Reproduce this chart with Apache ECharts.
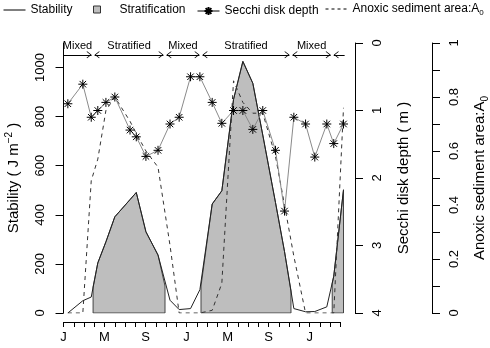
<!DOCTYPE html>
<html><head><meta charset="utf-8">
<script src="https://cdn.jsdelivr.net/npm/echarts@6/dist/echarts.min.js"></script>
<style>html,body{margin:0;padding:0;background:#fff}#c{width:490px;height:348px}</style>
</head><body><div id="c"></div>
<script>
// sampling dates in months from January of year 1
const months = [0.42,1.88,2.70,3.34,4.13,5.00,6.48,7.09,8.03,9.21,10.38,11.27,12.38,13.29,14.49,15.43,16.57,17.48,18.45,19.42,20.66,21.54,22.45,23.59,24.49,25.66,26.34,27.29];
const stability = [0,50,65,204,290,392,462,491,331,236,52,14,18,95,444,498,870,1025,936,725,450,250,18,5,6,25,150,502];
const secchi = [0.90,0.61,1.10,1.00,0.88,0.80,1.29,1.39,1.68,1.59,1.20,1.10,0.50,0.50,0.88,1.19,1.00,1.00,1.28,1.00,1.59,2.49,1.10,1.20,1.69,1.20,1.49,1.20];
const anoxic = [0,0,0.49,0.57,0.75,0.80,0.71,0.665,0.60,0.54,0.25,0,0,0,0.01,0.11,0.86,0.78,0.74,0.74,0.58,0.40,0.21,0,0,0,0,0.76];
const stratStart = [2.88,13.40,26.19];
const stratEnd = [9.89,22.17,27.29];
const stratStartStab = [106,110,120];
const stratEndStab = [110,90,502];
const periodBounds = [0,2.88,9.89,13.40,22.17,26.19,27.4];
const periodLabels = ['Mixed','Stratified','Mixed','Stratified','Mixed',''];
const monthTickCount = 28;
const monthLabelPos = [0,4,8,12,16,20,24];
const monthLabels = ['J','M','S','J','M','S','J'];
const stabTicks = [0,200,400,600,800,1000];
const anoxicLabelVals = [0,0.2,0.4,0.6,0.8,1];

const FONT = 'Liberation Sans, Arial, Helvetica, sans-serif';
const starPath = 'path://M0,-5L0,5M-5,0L5,0M-3.6,-3.6L3.6,3.6M-3.6,3.6L3.6,-3.6';
const arrowPath = 'path://M0,0L6,9L5,10L0,2.5L-5,10L-6,9ZM0,-10L0.01,-10L0,-9.99Z';
const arrowY = 1052;
const inset = 0.15;

const chart = echarts.init(document.getElementById('c'), null, {renderer:'canvas'});

const stratSeries = stratStart.map((s,i)=>{
  const e = stratEnd[i];
  const pts = [[s,0],[s,stratStartStab[i]]];
  months.forEach((m,j)=>{ if (m > s && m < e) pts.push([m, stability[j]]); });
  pts.push([e, stratEndStab[i]], [e,0], [s,0]);
  return {
    name:'Stratification', type:'line', xAxisIndex:0, yAxisIndex:0, data:pts,
    symbol:'none', z:2, silent:true,
    lineStyle:{color:'#444', width:1},
    itemStyle:{color:'#BEBEBE', borderColor:'#333', borderWidth:1},
    areaStyle:{color:'#BEBEBE', opacity:1}
  };
});

const mlData = periodLabels.map((lab,i)=>{
  const first = i===0, last = i===periodLabels.length-1;
  return [
    {coord:[periodBounds[i] + (first?0:inset), arrowY], name:lab, symbol: first?'none':arrowPath, symbolSize:[7,10]},
    {coord:[periodBounds[i+1] - (last?0:inset), arrowY], symbol: last?'none':arrowPath, symbolSize:[7,10]}
  ];
});

const txt = {fontSize:12, color:'#000', fontFamily:FONT};
const legendBase = {top:4, padding:0, itemHeight:14, itemWidth:22, selectedMode:false, textStyle:txt};
const noSymbol = {color:'rgba(0,0,0,0)', borderWidth:0, opacity:0};

const option = {
  animation:false,
  textStyle:{fontFamily:FONT, color:'#000'},
  legend:[
    Object.assign({}, legendBase, {left:3, data:['Stability'], itemStyle:noSymbol, lineStyle:{color:'#000', width:1}}),
    Object.assign({}, legendBase, {left:93, itemWidth:7, itemHeight:7, top:3.5,
      data:[{name:'Stratification', icon:'rect'}],
      itemStyle:{color:'#BEBEBE', borderColor:'#333', borderWidth:1},
      textStyle:Object.assign({}, txt, {padding:[0,0,0,14]})}),
    Object.assign({}, legendBase, {left:197, itemHeight:10, top:5, data:['Secchi disk depth'], lineStyle:{color:'#000', width:1}}),
    Object.assign({}, legendBase, {left:325, top:3, data:['Anoxic sediment area:A0'], itemStyle:noSymbol,
      lineStyle:{color:'#000', width:1, type:[3,3]},
      formatter: ()=> '{a|Anoxic sediment area:A}{s|0}',
      textStyle:Object.assign({}, txt, {
        rich:{a:{fontSize:12, fontFamily:FONT, color:'#000', lineHeight:16}, s:{fontSize:8, fontFamily:FONT, color:'#000', verticalAlign:'bottom', lineHeight:16}}})})
  ],
  grid:[
    {left:58, right:135, top:43, bottom:35, containLabel:false, outerBoundsMode:'none'},
    {left:63.5, right:149.5, top:43, bottom:26, containLabel:false, outerBoundsMode:'none'}
  ],
  xAxis:[
    {type:'value', gridIndex:0, min:-0.54, max:28.41, show:false},
    {type:'value', gridIndex:1, min:0, max:monthTickCount-1, interval:1, position:'bottom',
      axisLine:{show:true, onZero:false, lineStyle:{color:'#000', width:1}},
      axisTick:{show:true, length:5, lineStyle:{color:'#000'}},
      axisLabel:{customValues:monthLabelPos, formatter:(v)=>monthLabels[monthLabelPos.indexOf(v)], margin:9, fontSize:13, color:'#000', fontFamily:FONT},
      splitLine:{show:false}}
  ],
  yAxis:[
    {type:'value', gridIndex:0, position:'left', min:0, max:1100,
      axisLine:{show:true, lineStyle:{color:'#000', width:1}},
      axisTick:{show:true, length:8, customValues:stabTicks, lineStyle:{color:'#000'}},
      axisLabel:{customValues:stabTicks, formatter:(v)=>String(v), rotate:90, margin:11, fontSize:13, color:'#000', fontFamily:FONT},
      splitLine:{show:false},
      name:'{a|Stability ( J m}{b|\u22122}{a| )}', nameLocation:'middle', nameRotate:90, nameGap:35,
      nameTextStyle:{rich:{a:{fontSize:15, lineHeight:19, color:'#000', fontFamily:FONT}, b:{fontSize:10, lineHeight:19, verticalAlign:'top', color:'#000', fontFamily:FONT}}}},
    {type:'value', gridIndex:0, position:'right', offset:0, min:0, max:4, interval:1, inverse:true,
      axisLine:{show:true, lineStyle:{color:'#000', width:1}},
      axisTick:{show:true, length:8, lineStyle:{color:'#000'}},
      axisLabel:{rotate:90, margin:16, fontSize:13, color:'#000', fontFamily:FONT},
      splitLine:{show:false},
      name:'Secchi disk depth ( m )', nameLocation:'middle', nameRotate:90, nameGap:41,
      nameTextStyle:{fontSize:15, color:'#000', fontFamily:FONT}},
    {type:'value', gridIndex:0, position:'right', offset:77, min:0, max:1, interval:0.1,
      axisLine:{show:true, lineStyle:{color:'#000', width:1}},
      axisTick:{show:true, length:8, lineStyle:{color:'#000'}},
      axisLabel:{customValues:anoxicLabelVals, rotate:90, margin:16, fontSize:13, color:'#000', fontFamily:FONT},
      splitLine:{show:false},
      name:'{a|Anoxic sediment area:A}{s|0}', nameLocation:'middle', nameRotate:90, nameGap:38,
      nameTextStyle:{rich:{a:{fontSize:15, lineHeight:20, color:'#000', fontFamily:FONT}, s:{fontSize:10, lineHeight:20, verticalAlign:'bottom', color:'#000', fontFamily:FONT}}}},
    {type:'value', gridIndex:1, min:0, max:1, show:false}
  ],
  series:[
    ...stratSeries,
    {name:'Stability', type:'line', xAxisIndex:0, yAxisIndex:0,
      data: months.map((m,i)=>[m, stability[i]]), symbol:'none', z:3, silent:true,
      lineStyle:{color:'#222', width:1}, itemStyle:{color:'#222'},
      markLine:{silent:true, animation:false,
        lineStyle:{color:'#000', width:1, type:'solid'},
        label:{show:true, position:'insideMiddleTop', formatter:(p)=>p.name, fontSize:11, color:'#000', distance:3, fontFamily:FONT},
        emphasis:{disabled:true},
        data: mlData}},
    {name:'Anoxic sediment area:A0', type:'line', xAxisIndex:0, yAxisIndex:2,
      data: months.map((m,i)=>[m, anoxic[i]]), symbol:'none', z:4, silent:true,
      lineStyle:{color:'#333', width:1, type:[4,4]}, itemStyle:{color:'#333'}},
    {name:'Secchi disk depth', type:'line', xAxisIndex:0, yAxisIndex:1,
      data: months.map((m,i)=>[m, secchi[i]]), symbol:starPath, symbolSize:9, z:5, silent:true,
      lineStyle:{color:'#8a8a8a', width:1},
      itemStyle:{color:'#000', borderColor:'#000', borderWidth:1}}
  ]
};
chart.setOption(option);
</script>
</body></html>
